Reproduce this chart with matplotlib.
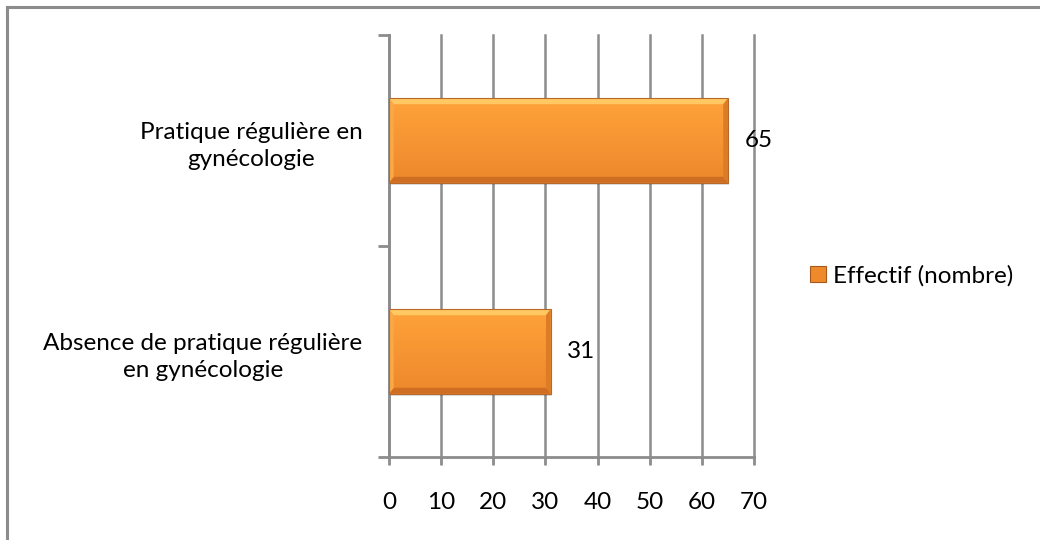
import matplotlib
matplotlib.use("Agg")
import matplotlib.pyplot as plt
from matplotlib.patches import Polygon, Rectangle
from matplotlib.lines import Line2D
import numpy as np

categories = ["Absence de pratique régulière\nen gynécologie",
              "Pratique régulière en\ngynécologie"]
values = [31, 65]
series_name = "Effectif (nombre)"
x_ticks = [0, 10, 20, 30, 40, 50, 60, 70]

plt.rcParams['font.family'] = ['Lato', 'DejaVu Sans']
FS = 17.5

fig = plt.figure(figsize=(10.4, 5.4), dpi=100)
fig.patch.set_facecolor("white")

# outer chart frame (top and left edges visible)
fig.add_artist(Line2D([7 / 1040, 1.0], [1 - 6.5 / 540] * 2, color="#8c8c8c", lw=2.2,
                      transform=fig.transFigure))
fig.add_artist(Line2D([7 / 1040] * 2, [0.0, 1 - 6.5 / 540], color="#8c8c8c", lw=2.2,
                      transform=fig.transFigure))

ax = fig.add_axes([389 / 1040, 1 - 457 / 540, (754 - 389) / 1040, (457 - 35) / 540])

grey = "#8c8c8c"
y = np.arange(len(categories))
bar_h = 0.4
bars = ax.barh(y, values, height=bar_h, color="#F7952F", edgecolor="none", zorder=3)

# gradient and bevel on each bar
for b in bars:
    x0, y0 = b.get_x(), b.get_y()
    w, h = b.get_width(), b.get_height()
    grad = np.linspace(0, 1, 100).reshape(-1, 1)
    top = np.array([1.00, 0.64, 0.23])
    bot = np.array([0.93, 0.53, 0.17])
    img = bot + (top - bot) * grad
    ax.imshow(img[:, None, :].repeat(2, axis=1), extent=[x0, x0 + w, y0, y0 + h],
              aspect="auto", origin="lower", zorder=3.1, interpolation="bilinear")
    bw = 0.9        # bevel width in data units (x)
    bh = h * 0.07   # bevel height in data units (y)
    # top bevel (light)
    ax.add_patch(Polygon([[x0, y0 + h], [x0 + w, y0 + h], [x0 + w - bw, y0 + h - bh],
                          [x0 + bw, y0 + h - bh]], closed=True, color="#FFC862", lw=0, zorder=3.2))
    # bottom bevel (dark)
    ax.add_patch(Polygon([[x0, y0], [x0 + w, y0], [x0 + w - bw, y0 + bh],
                          [x0 + bw, y0 + bh]], closed=True, color="#CE6E22", lw=0, zorder=3.2))
    # left bevel
    ax.add_patch(Polygon([[x0, y0], [x0, y0 + h], [x0 + bw, y0 + h - bh],
                          [x0 + bw, y0 + bh]], closed=True, color="#FAA845", lw=0, zorder=3.2))
    # right bevel
    ax.add_patch(Polygon([[x0 + w, y0], [x0 + w, y0 + h], [x0 + w - bw, y0 + h - bh],
                          [x0 + w - bw, y0 + bh]], closed=True, color="#DC7C26", lw=0, zorder=3.2))
    ax.add_patch(Rectangle((x0, y0), w, h, fill=False, ec="#B8692A", lw=0.8, zorder=3.3))
    # soft shadow
    ax.add_patch(Rectangle((x0 + 0.3, y0 - 0.012), w, h, color="#000000", alpha=0.12,
                           lw=0, zorder=2.9))

for yi, v in zip(y, values):
    ax.annotate(str(v), (v, yi), xytext=(12, 0), textcoords="offset points",
                va="center", ha="left", fontsize=FS, color="black", zorder=5)

ax.set_xlim(0, 70)
ax.set_ylim(-0.5, len(categories) - 0.5)
ax.set_xticks(x_ticks)
ax.set_xticklabels([str(t) for t in x_ticks], fontsize=FS)
ax.set_yticks(np.arange(-0.5, len(categories), 1.0))
ax.set_yticklabels([])
ax.set_yticks(y, minor=True)
ax.set_yticklabels(categories, minor=True, fontsize=FS, multialignment="center",
                   linespacing=1.4)
ax.tick_params(axis="y", which="minor", length=0, pad=19)
ax.tick_params(axis="y", which="major", length=8, width=2, color=grey, direction="out")
ax.tick_params(axis="x", length=6, width=2, color=grey, direction="out", pad=19)

ax.grid(axis="x", color=grey, lw=1.8, zorder=0)
for gl in ax.get_xgridlines():
    gl.set_clip_on(False)
ax.set_axisbelow(True)
for s in ["top", "right"]:
    ax.spines[s].set_visible(False)
for s in ["left", "bottom"]:
    ax.spines[s].set_color(grey)
    ax.spines[s].set_linewidth(2)

# legend
handle = Rectangle((0, 0), 1, 1, facecolor="#EE8A2B", edgecolor="#A85A1E", lw=0.8)
fig.legend([handle], [series_name], loc="center left", bbox_to_anchor=(810 / 1040, 1 - 276 / 540),
           frameon=False, fontsize=FS, handlelength=0.66, handleheight=0.66,
           handletextpad=0.3, borderaxespad=0, borderpad=0)

fig.savefig("out.png", dpi=100, facecolor="white")
